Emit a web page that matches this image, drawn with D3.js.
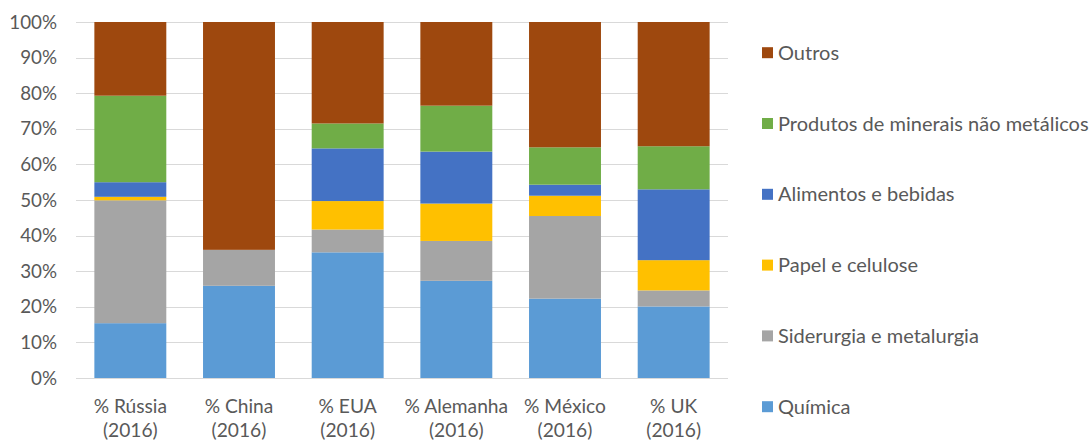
<!DOCTYPE html>
<html>
<head>
<meta charset="utf-8">
<script src="https://cdn.jsdelivr.net/npm/d3@7"></script>
<style>
  body { margin: 0; background: #fff; }
  svg text { font-family: Lato, "Open Sans", sans-serif; fill: #595959; }
</style>
</head>
<body>
<main></main>
<script>
//100% stacked bars - industry shares

//Data
const countries = ["% Rússia", "% China", "% EUA", "% Alemanha", "% México", "% UK"];
const year = "(2016)";
const series = ["Química", "Siderurgia e metalurgia", "Papel e celulose", "Alimentos e bebidas", "Produtos de minerais não metálicos", "Outros"];
const quimica    = [15.4, 25.9, 35.3, 27.3, 22.3, 20.1];
const siderurgia = [34.5, 10.1,  6.4, 11.2, 23.2,  4.5];
const papel      = [ 1.0,  0.0,  8.0, 10.5,  5.7,  8.5];
const alimentos  = [ 4.1,  0.0, 14.8, 14.6,  3.1, 19.9];
const minerais   = [24.3,  0.0,  7.0, 12.9, 10.5, 12.1];
const outros     = [20.7, 64.0, 28.5, 23.5, 35.2, 34.9];
const yTicks = [0, 10, 20, 30, 40, 50, 60, 70, 80, 90, 100];
const colors = ["#5b9bd5", "#a5a5a5", "#ffc000", "#4472c4", "#70ad47", "#9e480e"];

//Parameters
const w = 1090;
const h = 441;
const plot = {left: 76, right: 728, top: 22, bottom: 378};

const svg = d3.select("main")
  .append("svg")
  .attr("width", w)
  .attr("height", h);

//Table for the stack
const values = [quimica, siderurgia, papel, alimentos, minerais, outros];
const table = countries.map((c, i) => {
  const row = {country: c};
  series.forEach((s, j) => row[s] = values[j][i]);
  return row;
});
const stacked = d3.stack().keys(series)(table);

//Scales
const x = d3.scaleBand()
  .domain(countries)
  .range([plot.left, plot.right])
  .paddingInner(0.338)
  .paddingOuter(0.169);

const y = d3.scaleLinear()
  .domain([0, 100])
  .range([plot.bottom, plot.top]);

const color = d3.scaleOrdinal(series, colors);

//Gridlines
svg.append("g")
  .selectAll("line")
  .data(yTicks)
  .enter()
  .append("line")
  .attr("x1", plot.left)
  .attr("x2", plot.right)
  .attr("y1", d => Math.round(y(d)) + 0.5)
  .attr("y2", d => Math.round(y(d)) + 0.5)
  .attr("stroke", "#d9d9d9")
  .attr("stroke-width", 1);

//Y axis labels
const yAxis = svg.append("g")
  .attr("transform", "translate(" + (plot.left - 19) + ",0)")
  .call(d3.axisLeft(y).tickValues(yTicks).tickFormat(d => d + "%").tickSize(0).tickPadding(0));
yAxis.select(".domain").remove();
yAxis.selectAll("text")
  .attr("font-size", 18.8)
  .attr("font-family", null);

//Bars
svg.append("g")
  .selectAll("g")
  .data(stacked)
  .enter()
  .append("g")
  .attr("fill", d => color(d.key))
  .selectAll("rect")
  .data(d => d)
  .enter()
  .append("rect")
  .attr("x", d => x(d.data.country))
  .attr("width", x.bandwidth())
  .attr("y", d => y(d[1]))
  .attr("height", d => y(d[0]) - y(d[1]));

//X labels
const xl = svg.append("g")
  .selectAll("text")
  .data(countries)
  .enter()
  .append("text")
  .attr("x", d => x(d) + x.bandwidth() / 2)
  .attr("y", 413)
  .attr("text-anchor", "middle")
  .attr("font-size", 19.2);
xl.append("tspan").text(d => d);
xl.append("tspan")
  .attr("x", d => x(d) + x.bandwidth() / 2)
  .attr("dy", 24)
  .text(year);

//Legend
const legend = svg.append("g")
  .selectAll("g")
  .data(series.slice().reverse())
  .enter()
  .append("g")
  .attr("transform", (d, i) => "translate(762," + (52.7 + i * 70.8) + ")");

legend.append("rect")
  .attr("x", 0)
  .attr("y", -5.5)
  .attr("width", 11)
  .attr("height", 11)
  .attr("fill", d => color(d));

legend.append("text")
  .attr("x", 16)
  .attr("dy", "0.35em")
  .attr("font-size", 20)
  .text(d => d);
</script>
</body>
</html>
